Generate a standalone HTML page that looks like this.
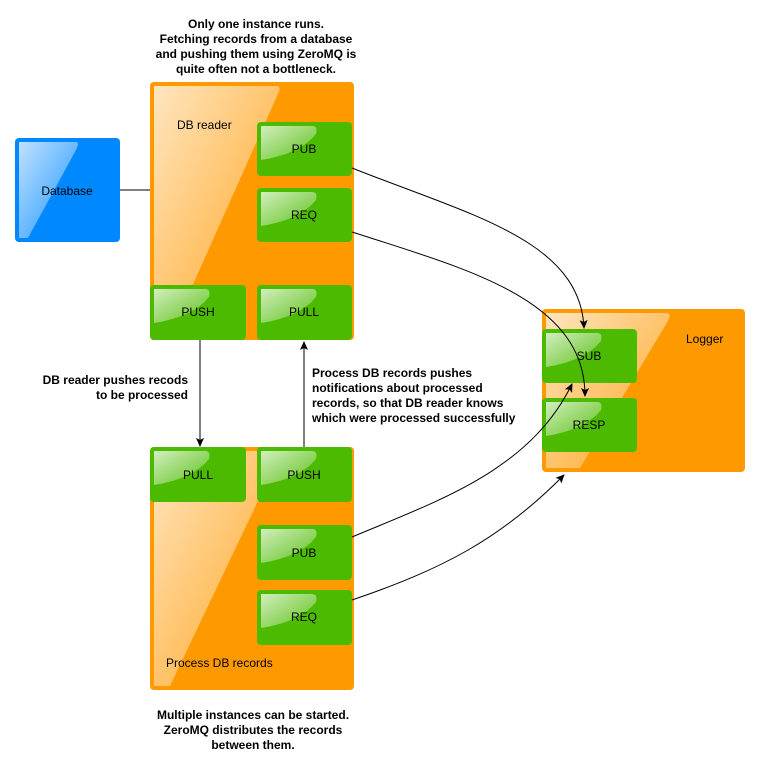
<!DOCTYPE html>
<html><head><style>body{margin:0;background:#fff}svg{display:block}text{font-family:"Liberation Sans",sans-serif;font-size:12px}</style></head>
<body>
<svg width="761" height="768" viewBox="0 0 761 768">
<defs>
<marker id="a" markerWidth="10" markerHeight="10" refX="8" refY="5" orient="auto" markerUnits="userSpaceOnUse"><path d="M0,1 L9,5 L0,9 L2,5 z" fill="#000"/></marker>
<linearGradient id="g" x1="0" y1="0" x2="1" y2="1"><stop offset="0" stop-color="#fff" stop-opacity="0.75"/><stop offset="1" stop-color="#fff" stop-opacity="0.1"/></linearGradient>
</defs>
<g stroke="#000" stroke-width="1" fill="none">
<line x1="120" y1="190" x2="150" y2="190"/>
<line x1="200" y1="340" x2="200" y2="446" marker-end="url(#a)"/>
<line x1="304" y1="447" x2="304" y2="342" marker-end="url(#a)"/>
</g>
<!-- Database -->
<rect x="15" y="138" width="105" height="104" rx="4" fill="#0088ff"/>
<path d="M19,142 H76 Q80,142 76,150 L28,238 H19 Z" fill="url(#g)"/>
<text x="67" y="195" text-anchor="middle">Database</text>
<!-- DB reader -->
<rect x="150" y="82" width="204" height="258" rx="4" fill="#ff9900"/>
<path d="M154,86 H276 Q282,86 278,94 L170,336 H154 Z" fill="url(#g)"/>
<text x="177" y="129">DB reader</text>
<!-- Process -->
<rect x="150" y="447" width="204" height="243" rx="4" fill="#ff9900"/>
<path d="M154,451 H276 Q282,451 278,459 L170,686 H154 Z" fill="url(#g)"/>
<text x="166" y="667">Process DB records</text>
<!-- Logger -->
<rect x="542" y="309" width="203" height="163" rx="4" fill="#ff9900"/>
<path d="M546,313 H666 Q672,313 668,321 L580,468 H546 Z" fill="url(#g)"/>
<text x="686" y="343">Logger</text>
<g font-size="12">
<g id="boxes"></g>
</g>
<!-- green boxes -->
<g>
<rect x="257" y="122" width="95" height="54" rx="4" fill="#4cbb00"/><path d="M261,126 H312 Q318,126 316,134 Q300,154 261,160 Z" fill="url(#g)"/><text x="304" y="153" text-anchor="middle">PUB</text>
<rect x="257" y="188" width="95" height="54" rx="4" fill="#4cbb00"/><path d="M261,192 H312 Q318,192 316,200 Q300,220 261,226 Z" fill="url(#g)"/><text x="304" y="219" text-anchor="middle">REQ</text>
<rect x="150" y="285" width="96" height="55" rx="4" fill="#4cbb00"/><path d="M154,289 H205 Q211,289 209,297 Q193,317 154,323 Z" fill="url(#g)"/><text x="198" y="316" text-anchor="middle">PUSH</text>
<rect x="257" y="285" width="95" height="55" rx="4" fill="#4cbb00"/><path d="M261,289 H312 Q318,289 316,297 Q300,317 261,323 Z" fill="url(#g)"/><text x="304" y="316" text-anchor="middle">PULL</text>
<rect x="150" y="447" width="96" height="55" rx="4" fill="#4cbb00"/><path d="M154,451 H205 Q211,451 209,459 Q193,479 154,485 Z" fill="url(#g)"/><text x="198" y="479" text-anchor="middle">PULL</text>
<rect x="257" y="447" width="95" height="55" rx="4" fill="#4cbb00"/><path d="M261,451 H312 Q318,451 316,459 Q300,479 261,485 Z" fill="url(#g)"/><text x="304" y="479" text-anchor="middle">PUSH</text>
<rect x="257" y="525" width="95" height="55" rx="4" fill="#4cbb00"/><path d="M261,529 H312 Q318,529 316,537 Q300,557 261,563 Z" fill="url(#g)"/><text x="304" y="557" text-anchor="middle">PUB</text>
<rect x="257" y="590" width="95" height="55" rx="4" fill="#4cbb00"/><path d="M261,594 H312 Q318,594 316,602 Q300,622 261,628 Z" fill="url(#g)"/><text x="304" y="621" text-anchor="middle">REQ</text>
<rect x="542" y="329" width="95" height="54" rx="4" fill="#4cbb00"/><path d="M546,333 H597 Q603,333 601,341 Q585,361 546,367 Z" fill="url(#g)"/><text x="589" y="360" text-anchor="middle">SUB</text>
<rect x="542" y="398" width="95" height="54" rx="4" fill="#4cbb00"/><path d="M546,402 H597 Q603,402 601,410 Q585,430 546,436 Z" fill="url(#g)"/><text x="589" y="429" text-anchor="middle">RESP</text>
</g>
<g stroke="#000" stroke-width="1" fill="none">
<path d="M352,168 C470,215 580,240 584,328" marker-end="url(#a)"/>
<path d="M352,232 C470,270 585,300 585,396" marker-end="url(#a)"/>
<path d="M352,537 C440,500 530,470 572,384" marker-end="url(#a)"/>
<path d="M352,600 C440,570 500,540 564,475" marker-end="url(#a)"/>
</g>
<g font-weight="bold" font-size="12" text-anchor="middle">
<text x="256" y="28">Only one instance runs.</text>
<text x="256" y="43">Fetching records from a database</text>
<text x="256" y="58">and pushing them using ZeroMQ is</text>
<text x="256" y="73">quite often not a bottleneck.</text>
<text x="253" y="719">Multiple instances can be started.</text>
<text x="253" y="734">ZeroMQ distributes the records</text>
<text x="253" y="749">between them.</text>
</g>
<g font-weight="bold" text-anchor="end">
<text x="188" y="384">DB reader pushes recods</text>
<text x="188" y="399">to be processed</text>
</g>
<g font-weight="bold">
<text x="312" y="377">Process DB records pushes</text>
<text x="312" y="392">notifications about processed</text>
<text x="312" y="407">records, so that DB reader knows</text>
<text x="312" y="422">which were processed successfully</text>
</g>
</svg>
</body></html>
